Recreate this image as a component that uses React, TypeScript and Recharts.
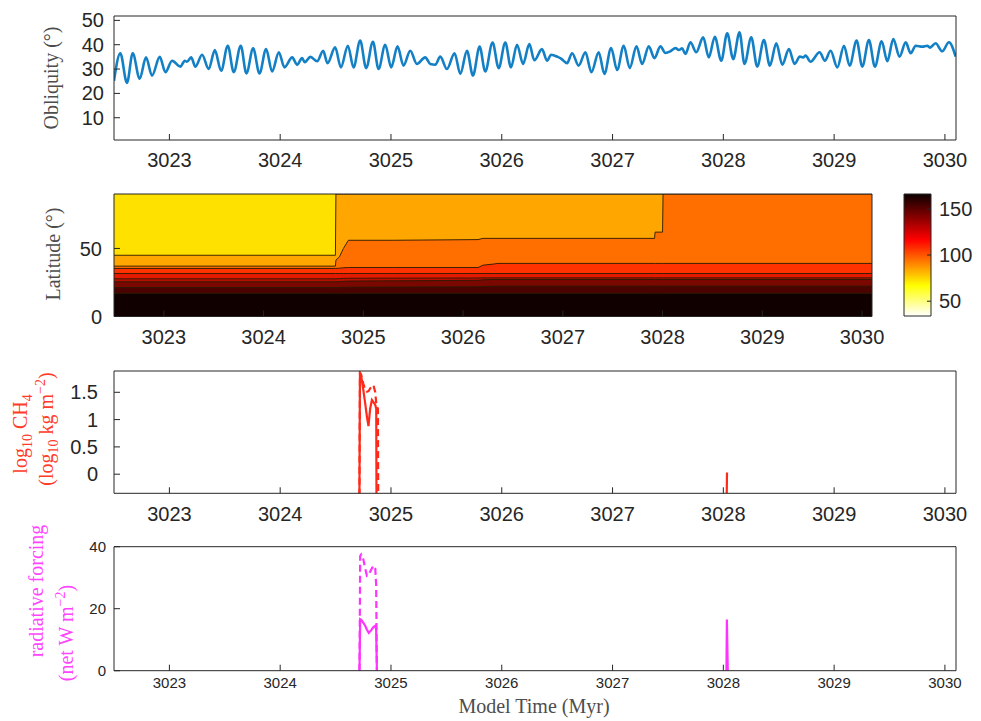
import React from 'react';
import { LineChart, Line, XAxis, YAxis, ComposedChart, Area, ReferenceArea } from 'recharts';

const TICK_FONT = '"Liberation Sans", Arial, Helvetica, sans-serif';
const SERIF = '"Liberation Serif", "DejaVu Serif", serif';
const INK = '#262626';

const timeTicks = [3023, 3024, 3025, 3026, 3027, 3028, 3029, 3030];
const timeDomain = [3022.5, 3030.1];

// obliquity (deg) vs model time (Myr), read at peaks and troughs
const oblTime = [
  3022.5, 3022.557, 3022.617, 3022.669, 3022.732, 3022.789, 3022.843, 3022.913, 3022.964, 3023.024,
  3023.099, 3023.139, 3023.159, 3023.196, 3023.235, 3023.295, 3023.355, 3023.41, 3023.467, 3023.527,
  3023.581, 3023.644, 3023.695, 3023.756, 3023.813, 3023.873, 3023.927, 3023.988, 3024.038, 3024.108,
  3024.153, 3024.198, 3024.222, 3024.273, 3024.334, 3024.388, 3024.427, 3024.496, 3024.548, 3024.611,
  3024.662, 3024.722, 3024.776, 3024.837, 3024.888, 3024.948, 3025.002, 3025.059, 3025.113, 3025.174,
  3025.234, 3025.309, 3025.355, 3025.4, 3025.445, 3025.505, 3025.574, 3025.626, 3025.686, 3025.74,
  3025.8, 3025.851, 3025.917, 3025.972, 3026.032, 3026.083, 3026.138, 3026.192, 3026.249, 3026.294,
  3026.363, 3026.409, 3026.445, 3026.505, 3026.535, 3026.589, 3026.635, 3026.694, 3026.755, 3026.809,
  3026.875, 3026.926, 3026.987, 3027.041, 3027.101, 3027.155, 3027.216, 3027.267, 3027.327, 3027.378,
  3027.432, 3027.477, 3027.523, 3027.568, 3027.598, 3027.628, 3027.658, 3027.703, 3027.755, 3027.818,
  3027.869, 3027.923, 3027.981, 3028.035, 3028.089, 3028.146, 3028.191, 3028.252, 3028.306, 3028.366,
  3028.42, 3028.478, 3028.532, 3028.592, 3028.643, 3028.691, 3028.72, 3028.742, 3028.787, 3028.869,
  3028.917, 3028.968, 3029.029, 3029.089, 3029.14, 3029.203, 3029.254, 3029.314, 3029.368, 3029.429,
  3029.48, 3029.534, 3029.591, 3029.646, 3029.691, 3029.736, 3029.796, 3029.841, 3029.865, 3029.916,
  3029.976, 3030.036, 3030.097,
];
const oblDeg = [
  25.2, 36.5, 24.3, 36.5, 26.0, 34.8, 27.3, 35.0, 28.7, 33.4,
  31.0, 33.4, 33.0, 34.8, 31.0, 35.9, 30.0, 37.8, 29.3, 39.6,
  28.7, 39.6, 28.2, 38.5, 28.2, 38.2, 29.0, 36.9, 30.7, 34.8,
  31.8, 34.5, 32.8, 35.0, 33.2, 37.5, 32.4, 38.9, 30.7, 39.6,
  30.7, 41.7, 30.4, 41.2, 30.0, 40.0, 30.7, 39.3, 31.4, 37.5,
  32.1, 34.8, 32.1, 31.8, 35.1, 30.0, 36.5, 28.0, 37.5, 27.3,
  39.2, 29.0, 40.9, 30.4, 40.9, 30.7, 40.0, 32.1, 40.3, 33.6,
  38.2, 33.4, 35.9, 35.0, 34.3, 32.4, 36.5, 31.4, 36.9, 28.7,
  36.9, 28.0, 38.6, 29.6, 39.6, 30.4, 39.3, 32.1, 39.3, 34.5,
  39.3, 36.6, 37.3, 38.6, 37.8, 38.5, 36.2, 41.0, 36.9, 43.0,
  34.8, 43.3, 33.4, 44.7, 34.1, 45.1, 32.1, 43.0, 31.0, 41.9,
  31.4, 40.6, 31.8, 38.2, 32.1, 35.1, 34.8, 35.5, 33.0, 36.9,
  33.4, 37.5, 30.7, 39.6, 31.4, 41.7, 31.0, 41.9, 31.0, 41.4,
  33.2, 42.3, 35.1, 41.0, 36.5, 39.6, 39.2, 39.6, 38.8, 40.6,
  37.3, 41.0, 35.1,
];

// filled-contour band edges (latitude, deg), each the lower edge of a band
const heatTime = [3022.5, 3024.72, 3024.725, 3024.76, 3024.8, 3024.85, 3025.3, 3026.15, 3026.2, 3026.3, 3026.35, 3027.92, 3027.925, 3028.0, 3028.005, 3030.1];
const edgeYellow = [45, 45, 90, 90, 90, 90, 90, 90, 90, 90, 90, 90, 90, 90, 90, 90];
const edgeOrange = [37, 37, 41.4, 43.8, 50, 56, 56, 56.5, 57.4, 57.4, 57.4, 57.4, 62, 62, 90, 90];
const edgeDarkOrange = [35.3, 35.3, 35.3, 35.5, 35.8, 36, 36, 36, 37.7, 38.5, 39, 39, 39, 39, 39, 39];
const edgeRedOrange = [31.6, 31.6, 31.6, 31.6, 31.6, 31.6, 31.6, 31.6, 31.6, 31.6, 31.6, 31.6, 31.6, 31.6, 31.6, 31.6];
const edgeRed = [27.7, 27.7, 27.7, 27.8, 28, 28.1, 28.2, 28.3, 28.4, 28.4, 28.4, 28.4, 28.4, 28.4, 28.4, 28.4];
const edgeDeepRed = [25.5, 25.5, 25.5, 25.6, 25.8, 26, 26.2, 26.6, 27, 27.2, 27.2, 27.2, 27.2, 27.2, 27.2, 27.2];
const edgeMaroon = [21.3, 21.3, 21.3, 21.3, 21.4, 21.5, 21.6, 21.8, 22, 22.2, 22.3, 22.3, 22.3, 22.3, 22.3, 22.3];
const edgeBlack = [17, 17, 17, 17, 17, 17, 17, 17, 17, 17, 17, 17, 17, 17, 17, 17];
const bandColors = ['#FFE100', '#FFA600', '#FF6F00', '#FF3300', '#E41A00', '#B81000', '#7A0800', '#4A0300', '#100000'];
const cbarTicks = [50, 100, 150];
const cbarDomain = [34, 166];

// log10 CH4 (solid and dashed)
const ch4Time = [3024.714, 3024.72, 3024.731, 3024.75, 3024.767, 3024.783, 3024.797, 3024.812, 3024.828, 3024.842, 3024.858, 3024.867, 3024.87, 3024.882, 3024.886, 3024.9, 3028.027, 3028.033];
const ch4Solid = [-1, 1.86, 1.8, 1.55, 1.3, 1.05, 0.88, 1.2, 1.36, 1.32, 1.27, 1.2, -1, null, null, null, -1, 0.03];
const ch4Dashed = [-1, 1.86, 1.82, 1.66, 1.55, 1.51, 1.52, 1.57, 1.62, 1.63, 1.5, 1.3, 1.25, 1.2, -1, null, null, null];
const ch4Ticks = [0, 0.5, 1, 1.5];

// radiative forcing (W m^-2)
const rfTime = [3024.716, 3024.722, 3024.731, 3024.75, 3024.767, 3024.783, 3024.8, 3024.82, 3024.842, 3024.858, 3024.866, 3024.873, 3024.9, 3028.028, 3028.032, 3028.04];
const rfSolid = [0, 16.6, 16.4, 15.5, 14.5, 13.2, 12.2, 13, 14.1, 14.5, 13.5, 0, null, 0, 16.5, 0];
const rfDashed = [0, 37, 37.5, 36, 33, 30.6, 31, 32.5, 33.9, 33, 28, 0, null, null, null, null];
const rfTicks = [0, 20, 40];

const oblData = oblTime.map((t, i) => ({ t, v: oblDeg[i] }));
const heatData = heatTime.map((t, i) => ({
  t, b0: 90, b1: edgeYellow[i], b2: edgeOrange[i], b3: edgeDarkOrange[i], b4: edgeRedOrange[i],
  b5: edgeRed[i], b6: edgeDeepRed[i], b7: edgeMaroon[i], b8: edgeBlack[i],
}));
const ch4Data = ch4Time.map((t, i) => ({ t, s: ch4Solid[i], d: ch4Dashed[i] }));
const rfData = rfTime.map((t, i) => ({ t, s: rfSolid[i], d: rfDashed[i] }));
const cbarData = [{ x: 0, r: cbarDomain }, { x: 1, r: cbarDomain }];

// bottom/left axes with labels, plus 1px top/right axes that only carry the box and inward ticks
function frame(yDomain: number[], yTicks: number[], opts: { xMargin: number; xHeight: number; yMargin: number; font: number }) {
  const tickStyle = { fill: INK, fontSize: opts.font, fontFamily: TICK_FONT };
  const line = { stroke: INK, strokeWidth: 1 };
  return [
    <XAxis key="xb" dataKey="t" type="number" domain={timeDomain} ticks={timeTicks} allowDataOverflow interval={0}
      height={opts.xHeight} tickSize={-6} tickMargin={opts.xMargin} axisLine={line} tickLine={line} tick={tickStyle} />,
    <XAxis key="xt" xAxisId="top" orientation="top" dataKey="t" type="number" domain={timeDomain} ticks={timeTicks} allowDataOverflow interval={0}
      height={1} tickSize={-6} axisLine={line} tickLine={line} tick={false} />,
    <YAxis key="yl" type="number" domain={yDomain} ticks={yTicks} allowDataOverflow interval={0} width={114}
      tickSize={-6} tickMargin={opts.yMargin} axisLine={line} tickLine={line} tick={tickStyle} />,
    <YAxis key="yr" yAxisId="right" orientation="right" type="number" domain={yDomain} ticks={yTicks} allowDataOverflow interval={0} width={1}
      tickSize={-6} axisLine={line} tickLine={line} tick={false} />,
  ];
}

function Titles() {
  const grey = '#4d4d4d';
  return (
    <svg width={981} height={721} style={{ position: 'absolute', left: 0, top: 0, pointerEvents: 'none' }}>
      <defs>
        <linearGradient id="hotMap" x1="0" y1="0" x2="0" y2="1">
          <stop offset="0" stopColor="#0b0000" />
          <stop offset="0.375" stopColor="#ff0000" />
          <stop offset="0.75" stopColor="#ffff00" />
          <stop offset="1" stopColor="#ffffff" />
        </linearGradient>
      </defs>
      <g fontFamily={SERIF}>
        <text transform="translate(58,78) rotate(-90)" textAnchor="middle" fontSize={20} fill={grey}>Obliquity (°)</text>
        <text transform="translate(60,254) rotate(-90)" textAnchor="middle" fontSize={20} fill={grey}>Latitude (°)</text>
        <text transform="translate(27,434) rotate(-90)" textAnchor="middle" fontSize={20} fill="#ff3b2a">
          <tspan>log</tspan><tspan dy={5} fontSize={14}>10</tspan><tspan dy={-5}> CH</tspan><tspan dy={5} fontSize={14}>4</tspan>
        </text>
        <text transform="translate(53,429) rotate(-90)" textAnchor="middle" fontSize={20} fill="#ff3b2a">
          <tspan>(log</tspan><tspan dy={5} fontSize={14}>10</tspan><tspan dy={-5}> kg m</tspan><tspan dy={-8} fontSize={14}>−2</tspan><tspan dy={8}>)</tspan>
        </text>
        <text transform="translate(43,591) rotate(-90)" textAnchor="middle" fontSize={20} fill="#ff44ff">radiative forcing</text>
        <text transform="translate(73,633) rotate(-90)" textAnchor="middle" fontSize={20} fill="#ff44ff">
          <tspan>(net W m</tspan><tspan dy={-8} fontSize={14}>−2</tspan><tspan dy={8}>)</tspan>
        </text>
        <text x={534} y={713} textAnchor="middle" fontSize={20} fill={grey}>Model Time (Myr)</text>
      </g>
    </svg>
  );
}

export default function App() {
  return (
    <div style={{ position: 'absolute', left: 0, top: 0, width: 981, height: 721, background: '#fff' }}>
      <div style={{ position: 'absolute', left: 0, top: 0 }}>
        <LineChart width={981} height={180} data={oblData} margin={{ top: 15, right: 24, left: 0, bottom: 0 }}>
          <Line dataKey="v" type="monotone" stroke="#1380c6" strokeWidth={2.6} dot={false} isAnimationActive={false} />
          {frame([0.85, 51.8], [10, 20, 30, 40, 50], { xMargin: 19, xHeight: 40, yMargin: 16, font: 20 })}
        </LineChart>
      </div>

      <div style={{ position: 'absolute', left: 0, top: 180 }}>
        <ComposedChart width={981} height={180} data={heatData} margin={{ top: 13, right: 108, left: 0, bottom: 0 }}>
          {['b0', 'b1', 'b2', 'b3', 'b4', 'b5', 'b6', 'b7', 'b8'].map((k, i) => (
            <Area key={k} dataKey={k} type="linear" baseValue={0} fill={bandColors[i]} fillOpacity={1}
              stroke={i === 0 ? 'none' : '#2a1a00'} strokeWidth={0.9} dot={false} activeDot={false} isAnimationActive={false} />
          ))}
          {frame([0, 90], [0, 50], { xMargin: 19, xHeight: 43.5, yMargin: 18, font: 20 })}
        </ComposedChart>
      </div>

      <div style={{ position: 'absolute', left: 890, top: 180 }}>
        <ComposedChart width={91} height={180} data={cbarData} margin={{ top: 14, right: 0, left: 14, bottom: 44 }}>
          <XAxis dataKey="x" type="number" domain={[0, 1]} hide />
          <YAxis yAxisId="c" orientation="right" type="number" domain={cbarDomain} ticks={cbarTicks} width={50} interval={0}
            tickSize={-4} tickMargin={12} axisLine={false} tickLine={{ stroke: INK }}
            tick={{ fill: INK, fontSize: 20, fontFamily: TICK_FONT }} />
          <Area yAxisId="c" dataKey="r" type="linear" fill="url(#hotMap)" fillOpacity={1} stroke="none" dot={false} activeDot={false} isAnimationActive={false} />
          <ReferenceArea yAxisId="c" y1={cbarDomain[0]} y2={cbarDomain[1]} fill="none" stroke={INK} strokeWidth={1} />
        </ComposedChart>
      </div>

      <div style={{ position: 'absolute', left: 0, top: 360 }}>
        <LineChart width={981} height={180} data={ch4Data} margin={{ top: 10, right: 24, left: 0, bottom: 0 }}>
          <Line dataKey="s" type="linear" stroke="#ff2a1a" strokeWidth={2.2} dot={false} isAnimationActive={false} />
          <Line dataKey="d" type="linear" stroke="#ff2a1a" strokeWidth={2.2} strokeDasharray="7 4" dot={false} isAnimationActive={false} />
          {frame([-0.35, 1.89], ch4Ticks, { xMargin: 19, xHeight: 46.7, yMargin: 22, font: 20 })}
        </LineChart>
      </div>

      <div style={{ position: 'absolute', left: 0, top: 530 }}>
        <LineChart width={981} height={191} data={rfData} margin={{ top: 15.7, right: 24, left: 0, bottom: 0 }}>
          <Line dataKey="s" type="linear" stroke="#ff33ff" strokeWidth={2.2} dot={false} isAnimationActive={false} />
          <Line dataKey="d" type="linear" stroke="#ff33ff" strokeWidth={2.2} strokeDasharray="7 4" dot={false} isAnimationActive={false} />
          {frame([0, 40], rfTicks, { xMargin: 13, xHeight: 50.3, yMargin: 14, font: 15 })}
        </LineChart>
      </div>

      <Titles />
    </div>
  );
}
